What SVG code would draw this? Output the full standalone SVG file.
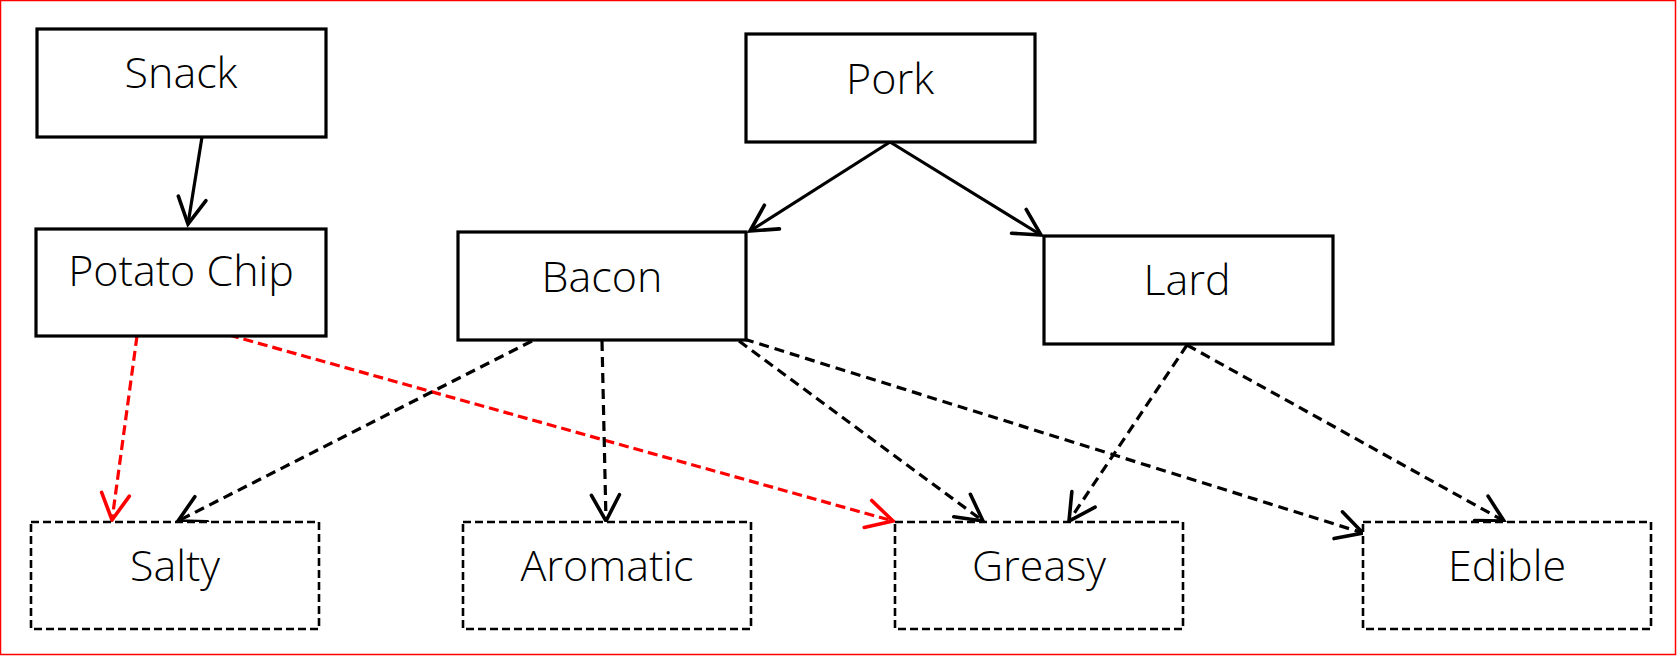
<svg xmlns="http://www.w3.org/2000/svg" width="1677" height="656" viewBox="0 0 1677 656">
<defs>
<style>
.box{fill:#fff;stroke:#000;stroke-width:3.2}
.dbox{fill:#fff;stroke:#000;stroke-width:2.6;stroke-dasharray:8 4}
.lbl{font-family:"Open Sans","Liberation Sans",Arial,sans-serif;font-weight:300;font-size:43px;fill:#000;text-anchor:middle}
.c{fill:none;stroke:#000;stroke-width:3.2}
.d{fill:none;stroke:#000;stroke-width:3.2;stroke-dasharray:10 6}
.r{fill:none;stroke:#f00;stroke-width:3.2;stroke-dasharray:10 5}
</style>
<marker id="ab" markerUnits="userSpaceOnUse" markerWidth="40" markerHeight="40" viewBox="-30 -20 40 40" refX="0" refY="0" orient="auto" overflow="visible">
<path d="M-26,-14 L0,0 L-26,14" fill="none" stroke="#000" stroke-width="3.6" stroke-linecap="round" stroke-linejoin="miter"/>
</marker>
<marker id="ar" markerUnits="userSpaceOnUse" markerWidth="40" markerHeight="40" viewBox="-30 -20 40 40" refX="0" refY="0" orient="auto" overflow="visible">
<path d="M-26,-14 L0,0 L-26,14" fill="none" stroke="#f00" stroke-width="3.6" stroke-linecap="round" stroke-linejoin="miter"/>
</marker>
</defs>
<rect x="0.5" y="0.5" width="1675" height="654" fill="#fff" stroke="#f00" stroke-width="1.5"/>
<g id="connectors">
<path class="c" d="M202,137 L188,224" marker-end="url(#ab)"/>
<path class="c" d="M890,142 L750,231" marker-end="url(#ab)"/>
<path class="c" d="M890,142 L1041,235" marker-end="url(#ab)"/>
<path class="r" d="M137,336 L112,520" marker-end="url(#ar)"/>
<path class="r" d="M229,335 L893,521" marker-end="url(#ar)"/>
<path class="d" d="M532,341 L178,521" marker-end="url(#ab)"/>
<path class="d" d="M602,341 L606,521" marker-end="url(#ab)"/>
<path class="d" d="M739,341 L983,521" marker-end="url(#ab)"/>
<path class="d" d="M744,339 L1363,533" marker-end="url(#ab)"/>
<path class="d" d="M1187,345 L1069,521" marker-end="url(#ab)"/>
<path class="d" d="M1187,345 L1504,521" marker-end="url(#ab)"/>
</g>
<g id="snack"><rect class="box" x="37" y="29" width="289" height="108"/><text class="lbl" x="181" y="88">Snack</text></g>
<g id="potato-chip"><rect class="box" x="36" y="229" width="290" height="107"/><text class="lbl" x="181" y="286">Potato Chip</text></g>
<g id="pork"><rect class="box" x="746" y="34" width="289" height="108"/><text class="lbl" x="890" y="94">Pork</text></g>
<g id="bacon"><rect class="box" x="458" y="232" width="288" height="108"/><text class="lbl" x="602" y="292">Bacon</text></g>
<g id="lard"><rect class="box" x="1044" y="236" width="289" height="108"/><text class="lbl" x="1187" y="295">Lard</text></g>
<g id="salty"><rect class="dbox" x="31" y="522" width="288" height="107"/><text class="lbl" x="175" y="581">Salty</text></g>
<g id="aromatic"><rect class="dbox" x="463" y="522" width="288" height="107"/><text class="lbl" x="607" y="581">Aromatic</text></g>
<g id="greasy"><rect class="dbox" x="895" y="522" width="288" height="107"/><text class="lbl" x="1039" y="581">Greasy</text></g>
<g id="edible"><rect class="dbox" x="1363" y="522" width="288" height="107"/><text class="lbl" x="1507" y="581">Edible</text></g>
</svg>
